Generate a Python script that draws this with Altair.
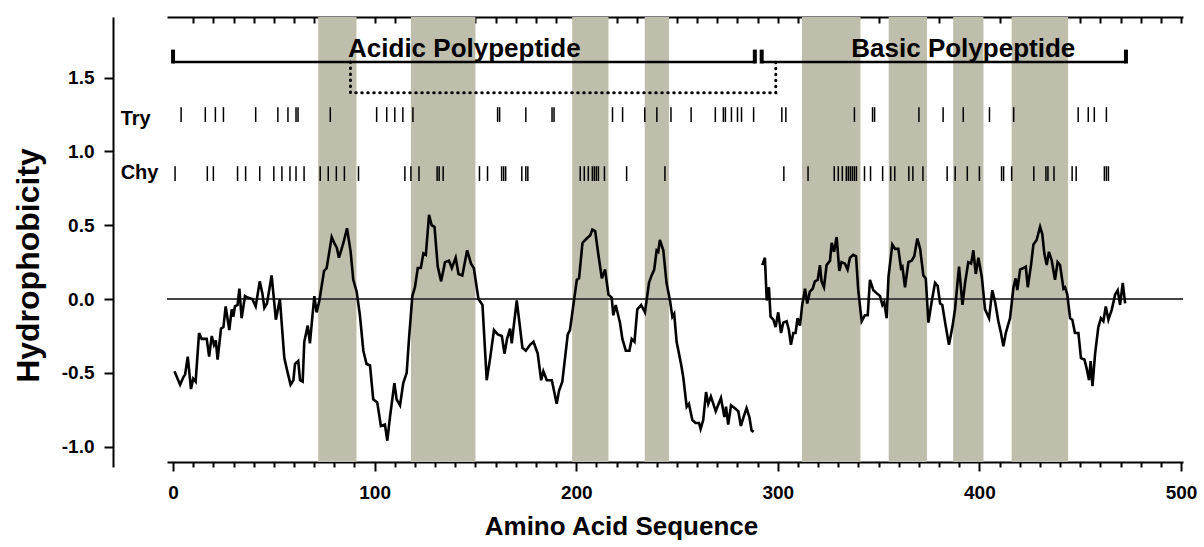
import altair as alt
import pandas as pd

# Hydrophobicity profile (window average), acidic chain
acidic_res = [0.7, 3.5, 5.1, 6.0, 7.3, 8.9, 10.0, 11.2, 12.9, 14.2, 16.7, 17.9, 19.2, 20.3, 21.2,
              22.1, 23.8, 25.0, 26.1, 27.9, 29.1, 29.9, 30.7, 32.0, 32.9, 34.0, 35.7, 37.0, 39.3,
              41.0, 43.0, 44.3, 45.3, 46.6, 48.9, 51.0, 53.0, 55.2, 56.7, 58.3, 59.7, 60.5, 62.1,
              63.0, 64.3, 65.1, 66.8, 67.9, 69.1, 70.1, 71.2, 72.6, 74.9, 76.2, 78.7, 80.3, 81.2,
              82.3, 84.5, 86.3, 88.1, 89.4, 91.1, 92.7, 94.4, 96.0, 97.7, 99.3, 101.3, 103.1,
              105.1, 106.3, 107.6, 109.8, 110.9, 112.6, 114.2, 115.9, 117.1, 118.7, 120.0, 121.4,
              122.9, 124.2, 125.4, 127.0, 128.3, 129.7, 131.3, 133.0, 134.9, 136.9, 138.3, 140.2,
              141.6, 143.5, 145.9, 147.8, 149.2, 151.5, 153.5, 155.6, 157.3, 159.2, 161.1, 163.1,
              164.4, 165.7, 167.2, 168.0, 170.5, 172.1, 173.3, 175.0, 177.1, 178.8, 180.9, 182.6,
              183.7, 185.4, 187.9, 190.3, 191.5, 193.1, 195.8, 196.9, 198.6, 200.3, 201.4, 203.1,
              205.2, 206.9, 208.0, 209.4, 211.0, 212.7, 214.3, 216.0, 217.6, 218.4, 219.6, 221.7,
              222.9, 224.6, 226.4, 227.5, 228.9, 230.3, 232.2, 234.1, 236.1, 237.4, 238.7, 239.9,
              240.7, 241.5, 243.2, 244.8, 246.5, 247.7, 248.6, 249.8, 252.0, 253.1, 254.8, 255.9,
              257.6, 259.2, 260.9, 261.7, 263.0, 264.4, 265.5, 266.8, 269.2, 271.8, 273.5, 274.3,
              275.4, 276.8, 278.7, 280.4, 281.7, 283.0, 284.5, 285.9, 287.0, 288.0]
acidic_val = [-0.49, -0.58, -0.53, -0.51, -0.39, -0.61, -0.54, -0.56, -0.23, -0.27, -0.27, -0.39,
              -0.25, -0.31, -0.28, -0.41, -0.20, -0.19, -0.05, -0.21, -0.07, -0.12, -0.05, -0.04,
              0.07, -0.13, 0.02, 0.01, 0.00, -0.05, 0.12, 0.04, -0.06, -0.03, 0.16, -0.14, 0.00,
              -0.40, -0.49, -0.58, -0.55, -0.44, -0.42, -0.55, -0.56, -0.29, -0.18, -0.30, -0.12,
              0.02, -0.09, -0.01, 0.19, 0.21, 0.42, 0.37, 0.35, 0.28, 0.38, 0.48, 0.32, 0.13, 0.05,
              -0.11, -0.35, -0.44, -0.45, -0.68, -0.70, -0.86, -0.85, -0.96, -0.80, -0.57, -0.68,
              -0.72, -0.57, -0.50, -0.26, 0.02, 0.08, 0.21, 0.21, 0.31, 0.30, 0.57, 0.50, 0.49,
              0.22, 0.12, 0.25, 0.26, 0.21, 0.28, 0.17, 0.16, 0.33, 0.24, 0.21, 0.00, -0.04, -0.55,
              -0.40, -0.21, -0.24, -0.25, -0.37, -0.27, -0.20, -0.30, -0.01, -0.19, -0.33, -0.35,
              -0.31, -0.29, -0.37, -0.55, -0.49, -0.55, -0.55, -0.71, -0.62, -0.56, -0.24, -0.21,
              -0.04, 0.13, 0.14, 0.38, 0.41, 0.43, 0.47, 0.46, 0.30, 0.14, 0.20, 0.03, 0.01, -0.11,
              -0.04, -0.16, -0.27, -0.35, -0.35, -0.27, -0.29, -0.07, -0.04, -0.09, 0.11, 0.16,
              0.20, 0.33, 0.32, 0.40, 0.33, 0.11, -0.01, -0.12, -0.10, -0.29, -0.44, -0.53, -0.73,
              -0.71, -0.82, -0.84, -0.84, -0.88, -0.82, -0.63, -0.71, -0.66, -0.76, -0.67, -0.80,
              -0.73, -0.85, -0.72, -0.74, -0.76, -0.86, -0.80, -0.74, -0.80, -0.89, -0.90]

# Hydrophobicity profile, basic chain
basic_res = [292.3, 293.6, 294.5, 295.6, 296.4, 297.8, 298.9, 300.2, 301.6, 302.7, 304.4, 305.5,
             306.5, 307.7, 308.8, 309.8, 311.0, 312.1, 313.5, 314.6, 315.9, 317.3, 318.4, 319.8,
             320.9, 321.7, 322.9, 324.2, 325.9, 326.7, 327.9, 329.2, 330.5, 331.6, 333.3, 334.6,
             335.8, 337.4, 338.8, 339.9, 341.6, 343.2, 344.6, 345.7, 347.4, 349.0, 350.7, 351.9,
             352.8, 354.0, 354.9, 356.8, 358.2, 359.8, 361.1, 361.8, 363.1, 364.8, 366.4, 367.7,
             369.2, 370.6, 372.2, 373.4, 374.7, 376.3, 378.0, 379.3, 380.5, 381.6, 383.0, 384.9,
             386.6, 387.9, 389.9, 391.6, 392.9, 394.5, 395.9, 397.0, 398.2, 399.5, 401.2, 402.8,
             404.8, 406.4, 407.8, 409.4, 410.7, 411.9, 413.1, 415.2, 416.9, 418.0, 418.8, 420.2,
             421.8, 423.0, 424.0, 425.6, 426.8, 428.4, 430.1, 431.2, 432.2, 433.4, 434.5, 435.9,
             437.5, 438.8, 440.0, 441.7, 442.5, 443.6, 445.0, 446.1, 447.4, 449.1, 450.4, 452.1,
             453.2, 454.4, 455.2, 456.1, 457.4, 459.0, 460.3, 461.5, 462.7, 464.0, 465.7, 467.3,
             468.6, 469.8, 471.1, 472.3]
basic_val = [0.23, 0.28, -0.01, 0.08, -0.12, -0.14, -0.19, -0.09, -0.23, -0.16, -0.15, -0.21,
             -0.31, -0.23, -0.23, -0.13, -0.18, -0.04, 0.07, -0.03, 0.05, 0.07, 0.12, 0.13, 0.23,
             0.12, 0.08, 0.23, 0.26, 0.38, 0.32, 0.42, 0.19, 0.25, 0.24, 0.20, 0.28, 0.30, 0.29,
             0.06, -0.15, -0.11, -0.11, 0.13, 0.06, 0.04, 0.02, -0.04, -0.02, -0.13, 0.15, 0.37,
             0.34, 0.34, 0.21, 0.22, 0.08, 0.25, 0.26, 0.29, 0.41, 0.34, 0.16, 0.14, -0.16, -0.02,
             0.11, 0.09, -0.03, -0.04, -0.16, -0.31, -0.19, -0.07, 0.22, -0.04, 0.11, 0.25, 0.24,
             0.33, 0.17, 0.28, 0.15, -0.07, -0.13, 0.06, -0.02, -0.15, -0.23, -0.32, -0.23, -0.13,
             0.08, 0.14, 0.06, 0.20, 0.21, 0.22, 0.08, 0.23, 0.37, 0.40, 0.49, 0.44, 0.31, 0.23,
             0.32, 0.26, 0.13, 0.25, 0.23, 0.07, 0.08, 0.03, -0.13, -0.14, -0.23, -0.23, -0.40,
             -0.41, -0.47, -0.55, -0.42, -0.59, -0.37, -0.19, -0.13, -0.15, -0.05, -0.14, -0.07,
             0.03, 0.06, -0.04, 0.11, -0.03]

# Trypsin and chymotrypsin cleavage sites
try_sites = [4, 16, 21, 25, 41, 52, 57, 61, 62, 78, 101, 106, 110, 114, 119, 161, 162, 175, 188,
             189, 218, 223, 234, 240, 247, 257, 269, 273, 274, 277, 280, 282, 288, 302, 304, 338,
             347, 348, 370, 382, 392, 405, 417, 449, 454, 457, 463]
chy_sites = [1, 17, 20, 32, 36, 43, 50, 54, 58, 61, 65, 73, 77, 81, 85, 92, 115, 118, 122, 131,
             132, 134, 152, 156, 163, 164, 165, 173, 175, 176, 202, 204, 206, 208, 209, 210, 211,
             214, 225, 244, 303, 315, 328, 330, 332, 334, 335, 336, 337, 338, 339, 343, 346, 352,
             356, 358, 365, 367, 372, 384, 388, 394, 400, 411, 412, 416, 427, 433, 434, 437, 446,
             448, 462, 463, 464]

# Hydrophobic segments (shaded)
band_start = [72, 118, 198, 234, 312, 355, 387, 416]
band_end = [91, 150, 216, 246, 341, 374, 402, 444]

# Polypeptide chains and the inter-chain disulfide
chains = ["Acidic Polypeptide", "Basic Polypeptide"]
chain_start = [0, 292]
chain_end = [288.6, 472.7]
chain_label_x = [144.5, 392]
cys_pair = [88, 299]

FONT = "Liberation Sans"
BAND = "#BFBDAB"
X_DOMAIN = [-3, 501]
Y_DOMAIN = [-1.138, 1.911]
Y_TOP, Y_AXIS = 1.911, -1.104
BRACKET_Y, CAP_Y, BOND_Y = 1.606, 1.69, 1.398
TRY_Y, CHY_Y = (1.20, 1.30), (0.80, 0.90)

xs = alt.Scale(domain=X_DOMAIN, nice=False, zero=False)
ys = alt.Scale(domain=Y_DOMAIN, nice=False, zero=False)

profile = pd.DataFrame({
    "residue": acidic_res + basic_res,
    "value": acidic_val + basic_val,
    "chain": ["acidic"] * len(acidic_res) + ["basic"] * len(basic_res),
})
bands = pd.DataFrame({"start": band_start, "end": band_end})
try_df = pd.DataFrame({"site": try_sites})
chy_df = pd.DataFrame({"site": chy_sites})
chain_df = pd.DataFrame({"name": chains, "start": chain_start, "end": chain_end,
                         "mid": chain_label_x})
caps_df = pd.DataFrame({"pos": chain_start + chain_end})
bond_df = pd.DataFrame({
    "pos": [cys_pair[0], cys_pair[0], cys_pair[1], cys_pair[1]],
    "level": [BRACKET_Y, BOND_Y, BOND_Y, BRACKET_Y],
    "order": [0, 1, 2, 3],
})
row_df = pd.DataFrame({"label": ["Try", "Chy"], "pos": [-26, -26], "level": [1.179, 0.813]})

bottom_axis = alt.Axis(
    values=list(range(0, 501, 10)),
    labelExpr="datum.value % 100 === 0 ? datum.value : ''",
    tickSize={"condition": {"test": "datum.value % 100 === 0", "value": 9}, "value": 5},
    tickWidth=2, tickColor="black", domainWidth=2, domainColor="black",
    labelFont=FONT, labelFontSize=19, labelFontWeight="bold", labelColor="black",
    labelPadding=12, labelFlush=False,
    title="Amino Acid Sequence", titleFont=FONT, titleFontSize=26, titleFontWeight="bold",
    titleColor="black", titlePadding=11, titleX=454, titleAlign="center",
    offset=-5, grid=False, orient="bottom",
)
top_line_axis = alt.Axis(orient="top", domain=True, domainWidth=2, domainColor="black",
                         ticks=False, labels=False, title=None, grid=False)
top_tick_axis = alt.Axis(orient="top", domain=False, values=list(range(10, 501, 10)),
                         ticks=True, tickSize=6, tickWidth=2, tickColor="black",
                         labels=False, title=None, grid=False, offset=-6)
y_axis = alt.Axis(
    orient="left",
    values=[-1.0, -0.5, 0.0, 0.5, 1.0, 1.5],
    labelExpr="datum.value < 0 ? '-' + format(-datum.value, '.1f') : format(datum.value, '.1f')",
    tickSize=9, tickWidth=2, tickColor="black", domainWidth=2, domainColor="black",
    labelFont=FONT, labelFontSize=19, labelFontWeight="bold", labelColor="black",
    labelPadding=10, title="Hydrophobicity", titleFont=FONT, titleFontSize=32,
    titleFontWeight="bold", titleColor="black", titlePadding=16, titleY=248,
    titleAlign="center", offset=54, grid=False,
)

band_layer = alt.Chart(bands).mark_rect(color=BAND).encode(
    x=alt.X("start:Q", scale=xs, axis=top_line_axis),
    x2="end:Q",
    y=alt.Y(datum=Y_TOP, scale=ys, axis=None),
    y2=alt.Y2(datum=Y_AXIS),
)

zero_layer = alt.Chart(profile).mark_rule(color="#444444", strokeWidth=1.5).encode(
    y=alt.Y(datum=0, scale=ys, axis=None)
)

line_layer = alt.Chart(profile).mark_line(color="black", strokeWidth=2.6).encode(
    x=alt.X("residue:Q", scale=xs, axis=bottom_axis),
    y=alt.Y("value:Q", scale=ys, axis=y_axis),
    detail="chain:N",
)

try_layer = alt.Chart(try_df).mark_rule(color="black", strokeWidth=1.5).encode(
    x=alt.X("site:Q", scale=xs, axis=top_tick_axis),
    y=alt.Y(datum=TRY_Y[0], scale=ys, axis=None),
    y2=alt.Y2(datum=TRY_Y[1]),
)
chy_layer = alt.Chart(chy_df).mark_rule(color="black", strokeWidth=1.5).encode(
    x=alt.X("site:Q", scale=xs, axis=None),
    y=alt.Y(datum=CHY_Y[0], scale=ys, axis=None),
    y2=alt.Y2(datum=CHY_Y[1]),
)
row_labels = alt.Chart(row_df).mark_text(
    font=FONT, fontSize=20, fontWeight="bold", align="left", baseline="alphabetic", color="black"
).encode(
    x=alt.X("pos:Q", scale=xs, axis=None),
    y=alt.Y("level:Q", scale=ys, axis=None),
    text="label:N",
)

bracket_layer = alt.Chart(chain_df).mark_rule(color="black", strokeWidth=2.6).encode(
    x=alt.X("start:Q", scale=xs, axis=None),
    x2="end:Q",
    y=alt.Y(datum=BRACKET_Y, scale=ys, axis=None),
)
cap_layer = alt.Chart(caps_df).mark_rule(color="black", strokeWidth=4).encode(
    x=alt.X("pos:Q", scale=xs, axis=None),
    y=alt.Y(datum=BRACKET_Y - 0.01, scale=ys, axis=None),
    y2=alt.Y2(datum=CAP_Y),
)
bond_layer = alt.Chart(bond_df).mark_line(
    color="black", strokeWidth=3, strokeDash=[0.5, 5.5], strokeCap="round"
).encode(
    x=alt.X("pos:Q", scale=xs, axis=None),
    y=alt.Y("level:Q", scale=ys, axis=None),
    order="order:Q",
)
chain_labels = alt.Chart(chain_df).mark_text(
    font=FONT, fontSize=26, fontWeight="bold", align="center", baseline="alphabetic",
    color="black"
).encode(
    x=alt.X("mid:Q", scale=xs, axis=None),
    y=alt.Y(datum=1.64, scale=ys, axis=None),
    text="name:N",
)

chart = alt.layer(
    band_layer, zero_layer, line_layer, try_layer, chy_layer, row_labels,
    bracket_layer, cap_layer, bond_layer, chain_labels,
).resolve_axis(x="independent", y="independent").properties(
    width=1016, height=450,
    padding={"left": 167, "top": 17, "right": 21, "bottom": 80},
    autosize=alt.AutoSizeParams(type="none"),
    background="white",
).configure_view(stroke=None)

chart.save("out.html", embed_options={"renderer": "svg", "actions": False})
